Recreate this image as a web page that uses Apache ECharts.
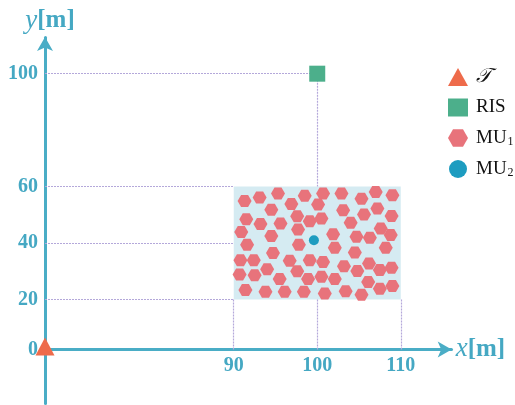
<!DOCTYPE html>
<html><head><meta charset="utf-8">
<script src="https://cdn.jsdelivr.net/npm/echarts@6/dist/echarts.min.js"></script>
<style>html,body{margin:0;padding:0;background:#fff}#c{width:515px;height:405px}</style>
</head><body><div id="c"></div>
<script>
// ---- data ----
const xTicks = [90, 100, 110];
const yTicks = [0, 20, 40, 60, 100];
const transmitter = [[0, 0]];
const ris = [[100, 100]];
const mu2 = [[99.6, 41.0]];
const mu1 = [
  [91.3,54.9],[93.1,56.1],[95.3,57.5],[98.5,56.7],[96.9,53.8],[94.5,51.8],
  [91.5,48.4],[93.2,46.7],[95.6,46.9],[97.6,49.5],[99.1,47.7],[90.9,43.9],
  [97.7,44.8],[94.5,42.5],[91.6,39.4],[97.8,39.4],[94.7,36.5],[90.8,33.9],
  [92.4,33.9],[96.7,33.7],[99.1,33.9],[94.0,30.7],[97.6,30.0],[90.7,28.8],
  [92.5,28.6],[95.5,27.2],[98.9,27.2],[91.4,23.3],[93.8,22.7],[96.1,22.7],
  [98.4,22.7],
  [100.7,57.5],[102.9,57.5],[105.3,55.7],[107.0,58.1],[109.0,56.9],[100.1,53.6],
  [103.1,51.6],[105.6,50.1],[107.2,52.2],[108.9,49.6],[100.5,48.7],[104.0,47.2],
  [107.6,45.1],[108.8,42.8],[101.9,43.1],[104.7,42.2],[106.3,41.9],[102.1,38.3],
  [104.5,36.6],[108.2,38.3],[100.7,33.3],[103.2,31.8],[106.2,32.7],[104.8,30.1],
  [107.5,30.4],[108.9,31.2],[100.5,28.0],[102.1,27.2],[106.1,26.2],[107.5,23.8],
  [109.0,24.8],[100.9,22.1],[103.4,22.9],[105.3,21.7]
];
const zoneX = [90, 110];
const zoneY = [20, 60];
const guides = [
  [[0,100],[100,100]], [[100,100],[100,60]],
  [[0,60],[90,60]], [[0,40],[90,40]], [[0,20],[90,20]],
  [[90,20],[90,0]], [[100,20],[100,0]], [[110,20],[110,0]]
];
const legendNames = {T: '{it|𝒯}', RIS: '{n|RIS}', MU1: '{n|MU}{s|1}', MU2: '{n|MU}{s|2}'};

// ---- style ----
const AX = '#4aadc6';
const LBL = '#45a8c3';
const SERIF = 'Liberation Serif, Times New Roman, serif';
const HEX = 'path://M0,0.866L0.5,0L1.5,0L2,0.866L1.5,1.732L0.5,1.732Z';

const chart = echarts.init(document.getElementById('c'), null, {renderer: 'canvas'});
chart.setOption({
  animation: false,
  backgroundColor: '#fff',
  grid: {left: 45, right: 63.3, top: 37, bottom: 2, containLabel: false, outerBoundsMode: 'none'},
  xAxis: {
    type: 'value', min: 0, max: 116.1,
    breaks: [{start: 8, end: 75.4, gap: 0}],
    breakArea: {show: false},
    splitLine: {show: false},
    axisTick: {show: false},
    offset: -53.6,
    axisLine: {onZero: false, lineStyle: {color: AX, width: 3}, symbol: ['none', 'arrow'], symbolSize: [12, 14]},
    axisLabel: {customValues: xTicks, color: LBL, fontFamily: SERIF, fontWeight: 'bold', fontSize: 20, margin: 6},
    name: '{i|x}{b|[m]}', nameLocation: 'end', nameGap: 4,
    nameTextStyle: {rich: {
      i: {fontFamily: SERIF, fontStyle: 'italic', fontSize: 27, color: LBL},
      b: {fontFamily: SERIF, fontWeight: 'bold', fontSize: 25, color: LBL}
    }}
  },
  yAxis: {
    type: 'value', min: -19, max: 113,
    breaks: [{start: 4, end: 6.3, gap: 0}],
    breakArea: {show: false},
    splitLine: {show: false},
    axisTick: {show: false},
    axisLine: {onZero: false, lineStyle: {color: AX, width: 3}, symbol: ['none', 'arrow'], symbolSize: [12, 14]},
    axisLabel: {customValues: yTicks, color: LBL, fontFamily: SERIF, fontWeight: 'bold', fontSize: 20, margin: 7},
    name: '{i|y}{b|[m]}', nameLocation: 'end', nameGap: 3,
    nameTextStyle: {padding: [0, 0, 0, 10], rich: {
      i: {fontFamily: SERIF, fontStyle: 'italic', fontSize: 27, color: LBL},
      b: {fontFamily: SERIF, fontWeight: 'bold', fontSize: 25, color: LBL}
    }}
  },
  legend: {
    orient: 'vertical', left: 443, top: 62,
    itemWidth: 20, itemHeight: 18, itemGap: 11,
    data: [
      {name: 'T', icon: 'triangle'},
      {name: 'RIS', icon: 'rect'},
      {name: 'MU1', icon: HEX},
      {name: 'MU2', icon: 'circle'}
    ],
    formatter: n => legendNames[n],
    textStyle: {padding: [0, 0, 0, 3], rich: {
      it: {fontFamily: SERIF, fontStyle: 'italic', fontSize: 20, color: '#111', lineHeight: 20},
      n: {fontFamily: SERIF, fontSize: 19, color: '#111', lineHeight: 20},
      s: {fontFamily: SERIF, fontSize: 12, color: '#111', lineHeight: 20, padding: [8, 0, 0, 1]}
    }}
  },
  series: [
    {
      type: 'lines', coordinateSystem: 'cartesian2d', silent: true, z: 1,
      data: guides.map(c => ({coords: c})),
      lineStyle: {color: '#b4a8da', width: 1.2, type: [2, 1], opacity: 1}
    },
    {
      name: 'MU1', type: 'scatter', z: 3, data: mu1,
      symbol: HEX, symbolSize: [14, 12],
      itemStyle: {color: '#e8737b', opacity: 1},
      markArea: {silent: true, itemStyle: {color: '#d5ebf2', opacity: 1},
        data: [[{coord: [zoneX[0], zoneY[0]]}, {coord: [zoneX[1], zoneY[1]]}]]}
    },
    {
      name: 'MU2', type: 'scatter', z: 4, data: mu2,
      symbol: 'circle', symbolSize: 10,
      itemStyle: {color: '#1d9cc0', opacity: 1}
    },
    {
      name: 'RIS', type: 'scatter', z: 4, data: ris,
      symbol: 'rect', symbolSize: 16,
      itemStyle: {color: '#4caf8b', opacity: 1}
    },
    {
      name: 'T', type: 'scatter', z: 5, data: transmitter,
      symbol: 'triangle', symbolSize: [19, 18], symbolOffset: [0, -3],
      itemStyle: {color: '#ee6b4b', opacity: 1}
    }
  ]
});
</script></body></html>
